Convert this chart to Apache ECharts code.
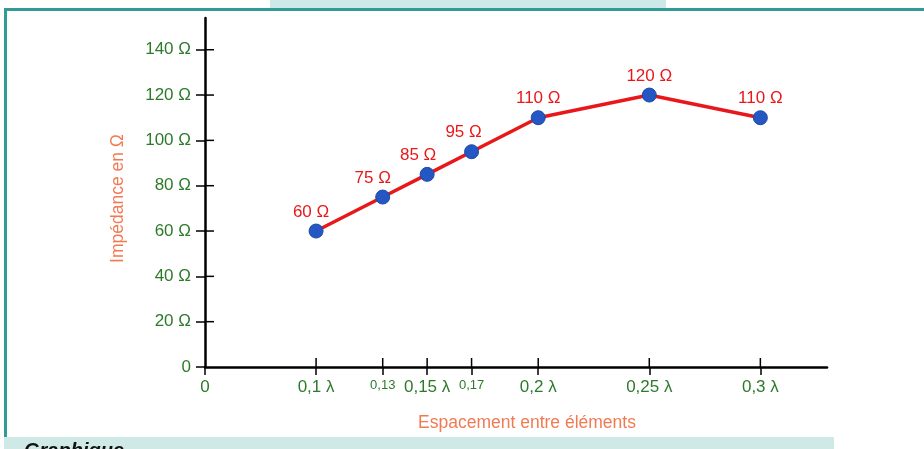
<!DOCTYPE html>
<html>
<head>
<meta charset="utf-8">
<script src="https://cdn.jsdelivr.net/npm/echarts@6/dist/echarts.min.js"></script>
<style>
html,body{margin:0;padding:0;background:#fff;}
#c{width:924px;height:449px;}
</style>
</head>
<body>
<div id="c"></div>
<script>
// Data
var spacing = [0.1, 0.13, 0.15, 0.17, 0.2, 0.25, 0.3];
var impedance = [60, 75, 85, 95, 110, 120, 110];
var xTickValues = [0.05, 0.1, 0.13, 0.15, 0.17, 0.2, 0.25, 0.3];
var xTickLabels = ['0', '0,1 λ', '0,13', '0,15 λ', '0,17', '0,2 λ', '0,25 λ', '0,3 λ'];
var smallTicks = [0.13, 0.17];
var yTickValues = [0, 20, 40, 60, 80, 100, 120, 140];
var yTickLabels = ['0', '20 Ω', '40 Ω', '60 Ω', '80 Ω', '100 Ω', '120 Ω', '140 Ω'];
var labelOffsets = [[-5, 0], [-10, 0], [-9, 0], [-8, 0], [0, 0], [0, 0], [0, 0]];

var xMin = 0.05, xMax = 0.33, yMin = 0, yMax = 154;

var chart = echarts.init(document.getElementById('c'), null, {renderer: 'canvas'});
var green = '#2c7a2a';
var orange = '#f27a52';
var font = 'Liberation Sans, Arial, sans-serif';

var pts = spacing.map(function (x, i) {
  return {
    value: [x, impedance[i]],
    label: {offset: labelOffsets[i]}
  };
});

// inner halves of the crossing ticks, placed through the axis scales
var innerTicks = xTickValues.slice(1).map(function (v) { return [v, yMin, 0]; })
  .concat(yTickValues.slice(1).map(function (v) { return [xMin, v, 1]; }));

var option = {
  animation: false,
  backgroundColor: '#ffffff',
  grid: {left: 205, right: 97, top: 18, bottom: 82, containLabel: false},
  xAxis: {
    type: 'value', min: xMin, max: xMax,
    axisLine: {show: true, onZero: false, lineStyle: {color: '#000', width: 2.5}},
    axisTick: {show: true, length: 8, customValues: xTickValues, lineStyle: {color: '#000', width: 1.5}},
    axisLabel: {
      show: true, margin: 12, customValues: xTickValues,
      fontFamily: font, fontSize: 17, color: green,
      formatter: function (v) {
        for (var i = 0; i < xTickValues.length; i++) {
          if (Math.abs(xTickValues[i] - v) < 1e-6) {
            if (smallTicks.some(function (s) { return Math.abs(s - v) < 1e-6; })) {
              return '{s|' + xTickLabels[i] + '}';
            }
            return xTickLabels[i];
          }
        }
        return '';
      },
      rich: {s: {fontSize: 13, color: green, fontFamily: font, padding: [0, 0, 14, 0]}}
    },
    splitLine: {show: false},
    name: 'Espacement entre éléments', nameLocation: 'middle', nameGap: 47,
    nameTextStyle: {color: orange, fontSize: 17.5, fontFamily: font, padding: [0, 0, 0, 22]}
  },
  yAxis: {
    type: 'value', min: yMin, max: yMax,
    axisLine: {show: true, onZero: false, lineStyle: {color: '#000', width: 2.5}},
    axisTick: {show: true, length: 9, customValues: yTickValues, lineStyle: {color: '#000', width: 1.5}},
    axisLabel: {
      show: true, margin: 14, customValues: yTickValues,
      fontFamily: font, fontSize: 17, color: green,
      formatter: function (v) {
        var i = yTickValues.indexOf(Math.round(v));
        return i >= 0 ? yTickLabels[i] : '';
      }
    },
    splitLine: {show: false},
    name: 'Impédance en Ω', nameLocation: 'middle', nameGap: 78, nameRotate: 90,
    nameTextStyle: {color: orange, fontSize: 17.5, fontFamily: font, padding: [0, 0, 0, -12]}
  },
  series: [{
    type: 'custom',
    silent: true, clip: false, z: 1,
    data: innerTicks,
    encode: {x: 0, y: 1},
    renderItem: function (params, api) {
      var p = api.coord([api.value(0), api.value(1)]);
      var vertical = api.value(2) === 0;
      return {
        type: 'line',
        shape: vertical ? {x1: p[0], y1: p[1], x2: p[0], y2: p[1] - 9}
                        : {x1: p[0], y1: p[1], x2: p[0] + 9, y2: p[1]},
        style: {stroke: '#000', lineWidth: 1.5}
      };
    }
  }, {
    type: 'line',
    data: pts,
    symbol: 'circle', symbolSize: 14,
    lineStyle: {color: '#e8181a', width: 3.5},
    itemStyle: {color: '#2456c4', borderColor: '#1d4aa8', borderWidth: 1},
    label: {show: true, position: 'top', distance: 3, color: '#e8181a', fontSize: 17, fontFamily: font,
      formatter: function (p) { return p.value[1] + ' Ω'; }},
    z: 5
  }],
  graphic: [
    {type: 'rect', shape: {x: 270, y: 0, width: 396, height: 8}, style: {fill: '#cde9e7'}, silent: true},
    {type: 'rect', shape: {x: 4, y: 8, width: 920, height: 3}, style: {fill: '#2f9c98'}, silent: true},
    {type: 'rect', shape: {x: 4, y: 8, width: 3, height: 430}, style: {fill: '#2f9c98'}, silent: true},
    {type: 'rect', shape: {x: 4, y: 437, width: 830, height: 12}, style: {fill: '#cfe9e6'}, silent: true},
    {type: 'text', x: 24, y: 441, style: {text: 'Graphique', fill: '#111', font: 'italic bold 20px ' + font, textVerticalAlign: 'top'}, silent: true}
  ]
};
chart.setOption(option);
</script>
</body>
</html>
